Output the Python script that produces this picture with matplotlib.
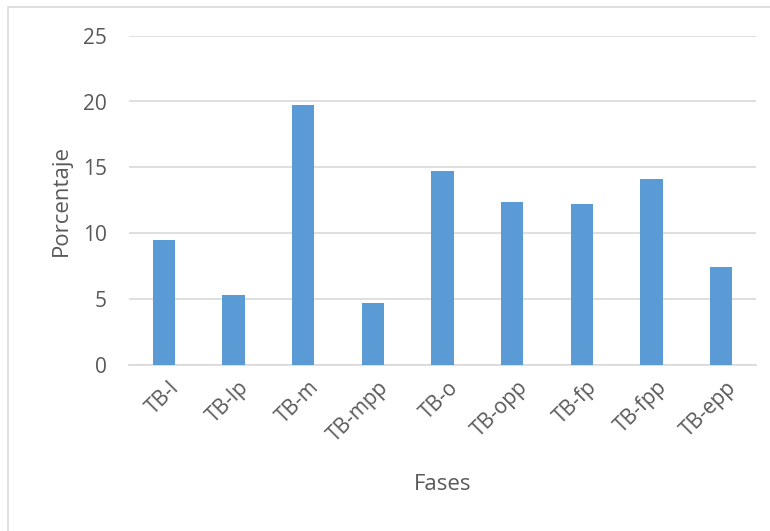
import matplotlib
matplotlib.use("Agg")
import matplotlib.pyplot as plt
from matplotlib.patches import Rectangle
from matplotlib.transforms import ScaledTranslation

# Data
fases = ["TB-l", "TB-lp", "TB-m", "TB-mpp", "TB-o", "TB-opp", "TB-fp", "TB-fpp", "TB-epp"]
porcentaje = [9.5, 5.3, 19.7, 4.7, 14.7, 12.4, 12.2, 14.1, 7.4]
y_ticks = [0, 5, 10, 15, 20, 25]

text_color = "#595959"
grid_color = "#D9D9D9"
bar_color = "#5B9BD5"

plt.rcParams["font.family"] = ["Open Sans", "DejaVu Sans"]

fig = plt.figure(figsize=(7.7, 5.31), dpi=100)
ax = fig.add_axes([129 / 770, 1 - 364.7 / 531, (756 - 129) / 770, (364.7 - 35.7) / 531])

x = list(range(len(fases)))
ax.bar(x, porcentaje, width=0.32, color=bar_color, zorder=3)

ax.set_xlim(-0.5, len(fases) - 0.5)
ax.set_ylim(0, 25)
ax.set_yticks(y_ticks)
ax.set_yticklabels([str(t) for t in y_ticks])
ax.yaxis.grid(True, color=grid_color, linewidth=1.2, zorder=0)
ax.set_axisbelow(True)

for side in ["top", "right", "left"]:
    ax.spines[side].set_visible(False)
ax.spines["bottom"].set_color(grid_color)
ax.spines["bottom"].set_linewidth(1.2)
ax.spines["bottom"].set_zorder(1)

ax.tick_params(axis="y", length=0, pad=16, labelsize=15, labelcolor=text_color)
ax.tick_params(axis="x", length=0, pad=9, labelsize=15, labelcolor=text_color)
ax.set_xticks(x)
ax.set_xticklabels(fases, rotation=45, ha="right", va="top", rotation_mode="anchor")
shift = ScaledTranslation(5 / 100, 0, fig.dpi_scale_trans)
for lbl in ax.get_xticklabels():
    lbl.set_transform(lbl.get_transform() + shift)

ax.set_ylabel("Porcentaje", fontsize=16, color=text_color)
ax.set_xlabel("Fases", fontsize=16, color=text_color)
ax.xaxis.set_label_coords(0.5, -(485 - 364.7) / 329.0, transform=ax.transAxes)
ax.xaxis.label.set_va("center")
ax.yaxis.set_label_coords(-(129 - 61) / 627.0, 0.5)
ax.yaxis.label.set_va("center")

# Chart area border
fig.patches.append(Rectangle((8 / 770, -0.05), 1.1, 1 - 7 / 531 + 0.05,
                             transform=fig.transFigure, fill=False,
                             edgecolor=grid_color, linewidth=1.2))

fig.savefig("out.png", dpi=100)
